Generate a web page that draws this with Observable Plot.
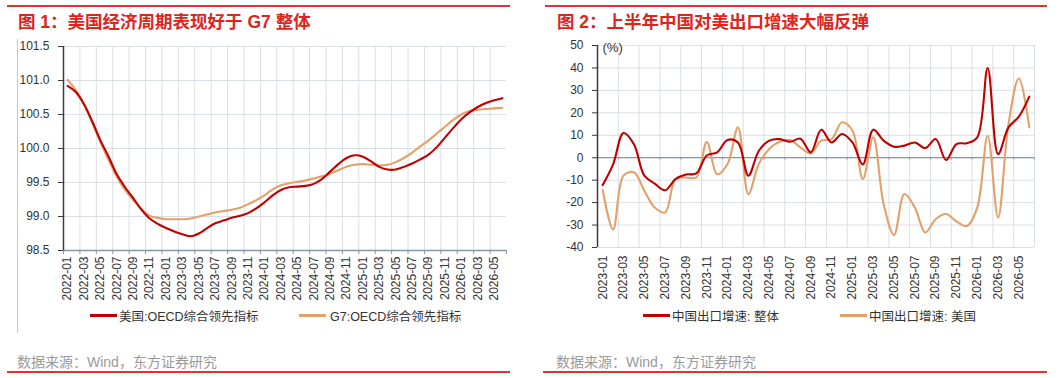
<!DOCTYPE html>
<html>
<head>
<meta charset="utf-8">
<script src="https://cdn.jsdelivr.net/npm/d3@7"></script>
<script src="https://cdn.jsdelivr.net/npm/@observablehq/plot@0.6"></script>
<style>
  body { margin: 0; background: #fff; width: 1061px; height: 378px; position: relative; overflow: hidden;
         font-family: "Liberation Sans", "Noto Sans CJK SC", sans-serif; }
  .rule { position: absolute; height: 1.5px; background: #e3342c; }
  .title { position: absolute; top: 8px; font-size: 17.5px; font-weight: bold; color: #e0241c; white-space: nowrap; }
  .src { position: absolute; top: 351px; font-size: 14px; color: #9a9a9a; white-space: nowrap; }
  .leg { position: absolute; top: 307px; font-size: 12.5px; color: #333; display: flex; align-items: center; white-space: nowrap; height: 17px; }
  .sw { display: inline-block; width: 27px; height: 2.5px; margin-right: 2px; }
  .chart { position: absolute; top: 30px; }
  .vline { position: absolute; left: 17px; top: 39px; width: 1px; height: 294px; background: #c8c8c8; }
</style>
</head>
<body>
<div class="rule" style="left:7px;top:5px;width:503px"></div>
<div class="rule" style="left:545px;top:5px;width:502px"></div>
<div class="title" style="left:18px">图 1：美国经济周期表现好于 G7 整体</div>
<div class="title" style="left:557px">图 2：上半年中国对美出口增速大幅反弹</div>
<div class="vline"></div>
<div id="c1" class="chart" style="left:0px"></div>
<div id="c2" class="chart" style="left:530px"></div>
<div class="leg" style="left:90px"><span class="sw" style="background:#c00000"></span>美国:OECD综合领先指标</div>
<div class="leg" style="left:299px"><span class="sw" style="background:#e2a06a;margin-right:4px"></span>G7:OECD综合领先指标</div>
<div class="leg" style="left:643px"><span class="sw" style="background:#c00000"></span>中国出口增速: 整体</div>
<div class="leg" style="left:840px"><span class="sw" style="background:#e2a06a"></span>中国出口增速: 美国</div>
<div class="src" style="left:17px">数据来源：Wind，东方证券研究</div>
<div class="src" style="left:556px">数据来源：Wind，东方证券研究</div>
<div class="rule" style="left:7px;top:371px;width:503px"></div>
<div class="rule" style="left:543px;top:371px;width:504px"></div>
<script>
// ---- Figure 1: OECD composite leading indicators (monthly) ----
const months1 = [
  "2022-01","2022-02","2022-03","2022-04","2022-05","2022-06","2022-07","2022-08","2022-09","2022-10","2022-11","2022-12",
  "2023-01","2023-02","2023-03","2023-04","2023-05","2023-06","2023-07","2023-08","2023-09","2023-10","2023-11","2023-12",
  "2024-01","2024-02","2024-03","2024-04","2024-05","2024-06","2024-07","2024-08","2024-09","2024-10","2024-11","2024-12",
  "2025-01","2025-02","2025-03","2025-04","2025-05","2025-06","2025-07","2025-08","2025-09","2025-10","2025-11","2025-12",
  "2026-01","2026-02","2026-03","2026-04","2026-05","2026-06"
];
const usCli = [
  100.92,100.83,100.65,100.40,100.12,99.88,99.62,99.43,99.27,99.10,
  98.97,98.89,98.83,98.78,98.74,98.71,98.75,98.83,98.90,98.94,
  98.98,99.01,99.05,99.12,99.21,99.31,99.39,99.43,99.44,99.45,
  99.48,99.55,99.66,99.77,99.86,99.90,99.88,99.81,99.73,99.69,
  99.69,99.73,99.78,99.84,99.91,100.02,100.16,100.30,100.43,100.53,
  100.61,100.67,100.71,100.74
];
const g7Cli = [
  101.01,100.86,100.65,100.38,100.09,99.83,99.58,99.39,99.24,99.11,
  99.01,98.98,98.96,98.96,98.96,98.97,99.00,99.03,99.06,99.08,
  99.10,99.13,99.18,99.24,99.31,99.40,99.46,99.49,99.51,99.53,
  99.56,99.59,99.63,99.68,99.73,99.76,99.77,99.76,99.75,99.76,
  99.80,99.86,99.94,100.03,100.12,100.22,100.32,100.42,100.50,100.55,
  100.57,100.58,100.59,100.60
];
const yTicks1 = [98.5, 99.0, 99.5, 100.0, 100.5, 101.0, 101.5];

// ---- Figure 2: China export growth, total vs. to the US (%, monthly) ----
const months2 = [
  "2023-01","2023-02","2023-03","2023-04","2023-05","2023-06","2023-07","2023-08","2023-09","2023-10","2023-11","2023-12",
  "2024-01","2024-02","2024-03","2024-04","2024-05","2024-06","2024-07","2024-08","2024-09","2024-10","2024-11","2024-12",
  "2025-01","2025-02","2025-03","2025-04","2025-05","2025-06","2025-07","2025-08","2025-09","2025-10","2025-11","2025-12",
  "2026-01","2026-02","2026-03","2026-04","2026-05","2026-06"
];
const exportTotal = [
  -12.2,-3.0,11.0,6.0,-8.0,-11.5,-14.5,-9.5,-7.5,-7.0,
  1.0,2.4,7.9,6.8,-8.0,3.0,7.6,8.3,7.1,8.5,
  2.4,12.5,6.8,10.6,6.8,-3.0,12.5,7.6,4.9,5.4,
  6.8,4.3,8.3,-1.0,6.1,6.5,9.1,40.0,1.6,13.5,
  18.3,27.2
];
const exportUS = [
  -14.4,-32.0,-8.0,-6.5,-14.7,-22.2,-24.4,-9.5,-8.8,-8.8,
  7.0,-7.3,-2.8,13.5,-16.2,-2.8,3.9,7.1,7.9,4.6,
  1.9,7.6,8.3,15.8,12.1,-9.5,9.1,-20.7,-34.4,-16.2,
  -22.2,-33.3,-27.4,-25.1,-28.4,-30.4,-22.2,9.8,-26.6,15.0,
  35.4,13.5
];
const yTicks2 = [-40, -30, -20, -10, 0, 10, 20, 30, 40, 50];

const RED = "#c00000", TAN = "#e2a06a";
const GRID = "#dadee5", AXIS_BLUE = "#8796ab", AXIS_DARK = "#3a3a3a";
const FONT = '"Liberation Sans", "Noto Sans CJK SC", sans-serif';

const toRows = arr => arr.map((v, i) => ({i, v}));

// Category axis: points sit at category centres, grid/ticks on the edges every 2 months
function categoryChart({months, series, yDomain, yTicks, yFormat, size, margins, zeroLine, gridToEnd, extra = []}) {
  const n = months.length;
  const labelIdx = d3.range(0, n, 2);
  const edges = labelIdx.map(i => i - 0.5);
  const tickEdges = edges.concat([n - 0.5]);
  const gridEdges = gridToEnd ? tickEdges : edges;
  return Plot.plot({
    width: size[0], height: size[1],
    marginTop: margins[0], marginRight: margins[1], marginBottom: margins[2], marginLeft: margins[3],
    style: {fontFamily: FONT, fontSize: "12px", color: "#333", background: "transparent"},
    x: {type: "linear", domain: [-0.5, n - 0.5], label: null},
    y: {domain: yDomain, label: null},
    marks: [
      Plot.gridY(yTicks, {stroke: GRID, strokeOpacity: 1}),
      Plot.gridX(gridEdges, {stroke: GRID, strokeOpacity: 1}),
      zeroLine
        ? [Plot.ruleY([0], {stroke: AXIS_BLUE, strokeWidth: 1.3}),
           Plot.ruleX(tickEdges, {y1: 0, y2: -1, stroke: AXIS_BLUE})]
        : [Plot.ruleY([yDomain[0]], {stroke: AXIS_BLUE, strokeWidth: 1.3}),
           Plot.axisX(tickEdges, {tickSize: 4, tickFormat: () => "", stroke: AXIS_BLUE, label: null})],
      Plot.axisX(labelIdx, {tickSize: 0, tickPadding: zeroLine ? 8 : 6, tickRotate: -90,
                            tickFormat: i => months[i], label: null, fill: "#333"}),
      Plot.axisY(yTicks, {tickSize: 5, tickPadding: 9, tickFormat: yFormat, label: null, stroke: AXIS_DARK, fill: "#333"}),
      Plot.ruleX([-0.5], {stroke: AXIS_DARK, strokeWidth: 1.5}),
      ...series.map(s => Plot.line(toRows(s.values), {x: "i", y: "v", stroke: s.color, strokeWidth: 2.1, curve: "catmull-rom"})),
      ...extra
    ]
  });
}

document.getElementById("c1").append(categoryChart({
  months: months1,
  series: [{values: g7Cli, color: TAN}, {values: usCli, color: RED}],
  yDomain: [98.5, 101.5], yTicks: yTicks1, yFormat: d => d.toFixed(1),
  size: [530, 280], margins: [16, 24, 60, 63], zeroLine: false, gridToEnd: false
}));

document.getElementById("c2").append(categoryChart({
  months: months2,
  series: [{values: exportUS, color: TAN}, {values: exportTotal, color: RED}],
  yDomain: [-40, 50], yTicks: yTicks2, yFormat: d => String(d),
  size: [531, 280], margins: [15, 27, 63, 67], zeroLine: true, gridToEnd: true,
  extra: [Plot.text(["(%)"], {frameAnchor: "top-left", dx: 5, dy: -3, fontSize: 13, fill: "#333", textAnchor: "start"})]
}));
</script>
</body>
</html>
